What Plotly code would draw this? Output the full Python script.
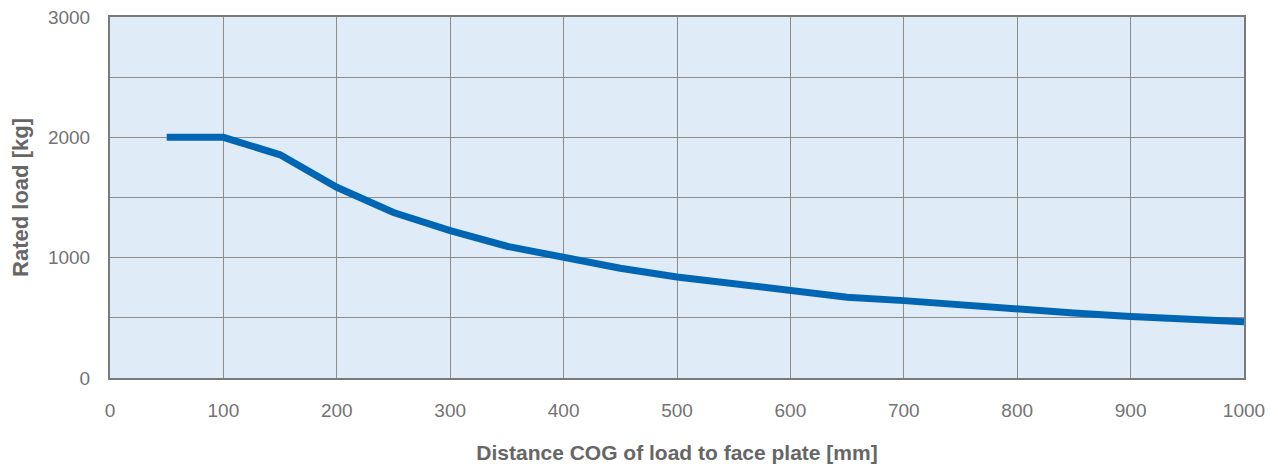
import plotly.graph_objects as go

distance_mm = [50, 100, 150, 200, 250, 300, 350, 400, 450, 500, 550, 600, 650, 700, 750, 800, 850, 900, 950, 1000]
rated_load_kg = [2000, 2000, 1855, 1585, 1375, 1225, 1095, 1005, 912, 840, 780, 732, 672, 643, 605, 572, 540, 512, 495, 467]

y_tickvals = [0, 500, 1000, 1500, 2000, 2500, 3000]
y_ticktext = ["0", "", "1000", "", "2000", "", "3000"]
x_tickvals = [0, 100, 200, 300, 400, 500, 600, 700, 800, 900, 1000]

fig = go.Figure()
fig.add_trace(go.Scatter(
    x=distance_mm, y=rated_load_kg, mode="lines",
    line=dict(color="#0066b3", width=7), hoverinfo="x+y", showlegend=False,
))

fig.update_layout(
    width=1262, height=456,
    margin=dict(l=102, r=26, t=9, b=86),
    paper_bgcolor="white",
    plot_bgcolor="#dfecf7",
    font=dict(family="Liberation Sans, Arial, sans-serif", color="#737373", size=19),
)
fig.update_xaxes(
    range=[0, 1000], tickvals=x_tickvals, ticktext=[str(v) for v in x_tickvals],
    showgrid=True, gridcolor="#8c8c8c", gridwidth=1,
    showline=True, linecolor="#7a7a7a", linewidth=2, mirror=True,
    ticks="", ticklabelstandoff=14, zeroline=False, automargin=False,
    ticklabeloverflow="allow",
    title=dict(text="<b>Distance COG of load to face plate [mm]</b>", standoff=28,
               font=dict(size=21, color="#666666")),
)
fig.update_yaxes(
    range=[0, 3000], tickvals=y_tickvals, ticktext=y_ticktext,
    showgrid=True, gridcolor="#8c8c8c", gridwidth=1,
    showline=True, linecolor="#7a7a7a", linewidth=2, mirror=True,
    ticks="", ticklabelstandoff=14, zeroline=False, automargin=False,
    ticklabeloverflow="allow",
    title=dict(text="<b>Rated load [kg]</b>", standoff=16,
               font=dict(size=22, color="#666666")),
)

fig.write_html("out.html")
